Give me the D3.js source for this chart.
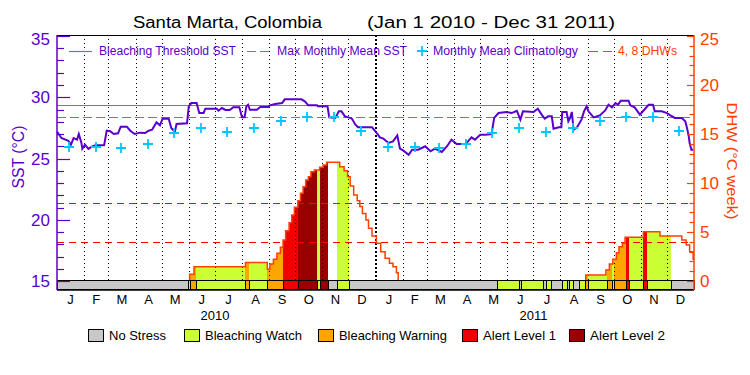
<!DOCTYPE html>
<html>
<head>
<meta charset="utf-8">
<script src="https://cdn.jsdelivr.net/npm/d3@7"></script>
<style>
  body { margin: 0; background: #fff; }
  text { font-family: "Liberation Sans", "DejaVu Sans", sans-serif; }
</style>
</head>
<body>
<svg id="chart" width="750" height="375"></svg>
<script>
// ---- data (days counted from Jan 1 2010) ----
const sstDays = [0,5,13,16,19,23,25,28,29,32,36,40,44,54,57,61,65,70,73,80,84,89,95,101,105,109,112,114,118,121,128,131,135,137,149,151,154,160,163,168,170,183,185,189,193,198,202,209,212,215,217,219,221,229,233,242,244,250,258,261,280,284,288,298,299,310,312,319,321,323,326,330,334,338,342,345,361,364,368,370,374,380,385,390,393,397,403,407,414,422,428,433,441,447,452,458,468,471,475,479,485,491,498,501,506,515,521,527,531,534,546,551,556,559,563,567,569,575,578,579,584,586,588,590,592,596,601,604,607,609,615,622,628,632,636,640,643,646,655,657,662,668,672,678,683,685,693,699,703,708,716,720,722,724,725,727,729];
const sstValues = [27.2,26.67,26.45,26.13,26.67,26.54,27.0,26.27,25.8,26.13,25.78,25.96,26.08,26.08,27.27,27.22,27.0,27.06,27.6,27.6,27.27,27.0,27.11,27.08,27.27,27.35,27.71,27.95,27.71,28.25,28.25,27.49,27.16,27.82,27.87,29.26,29.53,29.53,28.71,28.71,29.07,29.07,28.9,29.12,28.96,28.96,29.18,29.18,28.36,28.36,29.26,29.39,28.98,28.98,29.2,29.2,29.34,29.45,29.53,29.83,29.83,29.67,29.34,29.34,29.26,29.26,28.36,28.31,28.58,28.85,28.85,28.44,28.36,28.25,27.76,27.55,27.55,27.3,26.94,26.73,26.62,26.27,26.4,26.89,25.8,25.64,25.31,25.72,25.72,26.0,25.59,25.8,25.53,26.0,26.54,26.18,26.18,26.4,26.73,26.54,26.94,26.94,27.0,28.31,28.71,28.8,28.71,28.9,28.17,28.85,28.8,29.07,28.52,28.25,28.44,28.44,27.43,27.55,27.55,28.8,28.8,28.04,28.31,28.8,27.35,27.55,28.17,28.85,29.26,28.85,28.36,28.52,28.9,29.39,29.18,29.53,29.39,29.72,29.72,29.34,29.18,28.58,28.9,29.39,29.39,28.85,28.85,28.71,28.52,28.31,28.31,28.04,27.49,26.81,26.27,25.72,25.72];

const climValues = [25.9,25.9,25.88,26.15,27.1,27.5,27.18,27.5,28.1,28.36,28.36,27.24];
const maxMonthlyMean = 28.36;
const bleachingThreshold = 29.36;

const dhwDays = [0,152,157,216,241,244,248,252,256,259,262,266,269,272,276,279,282,285,288,291,295,301,305,309,324,329,333,336,340,344,347,350,354,357,361,366,371,376,381,385,389,391,606,629,633,637,641,644,648,651,672,691,716,721,725,729];
const dhwValues = [0,0.68,1.46,1.88,1.19,1.73,2.21,2.82,3.44,4.18,5.13,5.95,6.73,7.52,8.19,8.95,9.62,10.3,10.64,11.15,11.33,11.6,11.84,12.11,11.66,11.26,10.64,9.69,8.78,8.2,7.6,6.9,6.22,5.37,4.59,3.84,2.99,2.31,1.8,1.46,0.85,0,0.61,1.12,1.73,2.21,2.89,3.5,3.84,4.46,5.03,4.59,4.18,3.67,2.99,2.14];
const dhwLevels = [4, 8];

// alert status: start day and level (0 no stress .. 4 alert level 2)
const statusStart = [0,150,152,159,215,220,241,259,276,298,301,311,321,335,504,529,532,557,560,566,579,584,587,591,598,605,609,630,636,638,652,655,672,676,704];
const statusLevel = [0,1,2,1,2,1,2,3,4,1,4,0,1,0,1,0,1,0,1,0,1,0,1,0,1,2,1,2,1,2,3,1,3,1,0];
const statusNames = ["No Stress", "Bleaching Watch", "Bleaching Warning", "Alert Level 1", "Alert Level 2"];
const statusColors = ["#c8c8c8", "#ccff33", "#ffa500", "#f00000", "#990000"];

const monthLetters = ["J","F","M","A","M","J","J","A","S","O","N","D"];
const years = [2010, 2011];
const sstTicks = [15, 20, 25, 30, 35];
const dhwTicks = [0, 5, 10, 15, 20, 25];
const totalDays = 730;

// ---- setup ----
const purple = "#5a00cc", blue = "#1e90ff", cyan = "#00c8ff", dhwColor = "#ff4000";
const svg = d3.select("#chart");
const plotLeft = 57, plotRight = 694, plotTop = 35, plotBottom = 290, barTop = 281;

const dayToDate = d => new Date(Date.UTC(2010, 0, 1) + d * 864e5);
const x = d3.scaleUtc().domain([dayToDate(0), dayToDate(totalDays)]).range([plotLeft, plotRight]);
const xd = d => x(dayToDate(d));
const ySST = d3.scaleLinear().domain([15, 35]).range([barTop, 36]);
const yDHW = d3.scaleLinear().domain([0, 25]).range([barTop, 36]);
const crisp = v => Math.round(v) + 0.5;

const segments = statusStart.map((s, i) => ({
  start: s,
  end: i < statusStart.length - 1 ? statusStart[i + 1] : totalDays,
  level: statusLevel[i]
}));

const dhwAt = d => {
  let v = 0;
  dhwDays.forEach((dd, i) => { if (dd <= d) v = dhwValues[i]; });
  return v;
};

// ---- DHW fills coloured by alert status ----
const area = d3.area()
  .x(p => xd(p[0]))
  .y0(yDHW(0))
  .y1(p => yDHW(p[1]))
  .curve(d3.curveStepAfter);

segments.filter(s => s.level > 0).forEach(seg => {
  const pts = [[seg.start, dhwAt(seg.start)]];
  dhwDays.forEach((d, i) => { if (d > seg.start && d < seg.end) pts.push([d, dhwValues[i]]); });
  pts.push([seg.end, dhwAt(seg.end)]);
  svg.append("path")
    .attr("d", area(pts))
    .attr("fill", statusColors[seg.level])
    .attr("shape-rendering", "crispEdges");
});

// ---- dotted month lines ----
const monthStarts = d3.utcMonth.range(dayToDate(0), dayToDate(totalDays));
monthStarts.slice(1).forEach(m => {
  const isYear = m.getUTCMonth() === 0;
  const mx = isYear ? Math.round(x(m)) : crisp(x(m));
  svg.append("line")
    .attr("x1", mx).attr("x2", mx)
    .attr("y1", plotTop).attr("y2", barTop)
    .attr("stroke", "#000")
    .attr("stroke-width", isYear ? 2 : 1)
    .attr("stroke-dasharray", isYear ? "2,2" : "1,3")
    .attr("shape-rendering", "crispEdges");
});

// ---- reference lines ----
svg.append("line")
  .attr("x1", plotLeft).attr("x2", plotRight)
  .attr("y1", crisp(ySST(bleachingThreshold))).attr("y2", crisp(ySST(bleachingThreshold)))
  .attr("stroke", blue).attr("stroke-width", 1.2);
svg.append("line")
  .attr("x1", plotLeft).attr("x2", plotRight)
  .attr("y1", crisp(ySST(maxMonthlyMean))).attr("y2", crisp(ySST(maxMonthlyMean)))
  .attr("stroke", blue).attr("stroke-width", 1.2)
  .attr("stroke-dasharray", "9,4");
dhwLevels.forEach(v => {
  svg.append("line")
    .attr("x1", plotLeft).attr("x2", plotRight)
    .attr("y1", crisp(yDHW(v))).attr("y2", crisp(yDHW(v)))
    .attr("stroke", "#ff0000").attr("stroke-width", 1.2)
    .attr("stroke-dasharray", "7,5");
});

// ---- DHW step line ----
const dhwLine = d3.line()
  .x(d => xd(d))
  .y((d, i) => yDHW(dhwValues[i]))
  .curve(d3.curveStepAfter);
svg.append("path")
  .attr("d", dhwLine(dhwDays))
  .attr("fill", "none")
  .attr("stroke", dhwColor)
  .attr("stroke-width", 1.5);

// ---- SST line ----
const sstLine = d3.line()
  .x(d => xd(d))
  .y((d, i) => ySST(sstValues[i]));
svg.append("path")
  .attr("d", sstLine(sstDays))
  .attr("fill", "none")
  .attr("stroke", purple)
  .attr("stroke-width", 2);

// ---- monthly climatology crosses ----
years.forEach(yr => {
  climValues.forEach((v, m) => {
    const cx = Math.round(x(new Date(Date.UTC(yr, m, 15))));
    const cy = Math.round(ySST(v));
    svg.append("path")
      .attr("d", `M${cx - 5},${cy}H${cx + 5}M${cx},${cy - 5}V${cy + 5}`)
      .attr("stroke", cyan)
      .attr("stroke-width", 1.8);
  });
});

// ---- status bar (drawn over the zero part of the DHW line) ----
segments.forEach(seg => {
  const x0 = crisp(xd(seg.start)), x1 = crisp(xd(seg.end));
  svg.append("rect")
    .attr("x", x0).attr("y", barTop - 0.5)
    .attr("width", x1 - x0)
    .attr("height", plotBottom - barTop)
    .attr("fill", statusColors[seg.level])
    .attr("stroke", "#000")
    .attr("stroke-width", 1);
});

// ---- frame and axes ----
svg.append("line").attr("x1", plotLeft).attr("x2", plotRight).attr("y1", plotTop + 0.5).attr("y2", plotTop + 0.5).attr("stroke", "#000");
svg.append("line").attr("x1", plotLeft).attr("x2", plotRight).attr("y1", plotBottom).attr("y2", plotBottom).attr("stroke", "#000").attr("stroke-width", 1.5);
svg.append("line").attr("x1", plotLeft).attr("x2", plotLeft).attr("y1", plotTop).attr("y2", plotBottom).attr("stroke", purple).attr("stroke-width", 1.5);
svg.append("line").attr("x1", plotRight).attr("x2", plotRight).attr("y1", plotTop).attr("y2", plotBottom).attr("stroke", dhwColor).attr("stroke-width", 1.5);

d3.range(15, 36).forEach(v => {
  const major = v % 5 === 0;
  svg.append("line")
    .attr("x1", plotLeft).attr("x2", plotLeft + (major ? 13 : 7))
    .attr("y1", crisp(ySST(v))).attr("y2", crisp(ySST(v)))
    .attr("stroke", purple).attr("stroke-width", 1.2);
});
sstTicks.forEach(v => {
  svg.append("text")
    .attr("x", 50).attr("y", ySST(v) + 6 + (v === 35 ? 3 : 0))
    .attr("text-anchor", "end")
    .attr("font-size", 17)
    .attr("fill", purple)
    .text(v);
});

d3.range(0, 26).forEach(v => {
  const major = v % 5 === 0;
  svg.append("line")
    .attr("x1", plotRight - (major ? 7 : 4.5)).attr("x2", plotRight)
    .attr("y1", crisp(yDHW(v))).attr("y2", crisp(yDHW(v)))
    .attr("stroke", dhwColor).attr("stroke-width", 1.2);
});
dhwTicks.forEach(v => {
  svg.append("text")
    .attr("x", 700).attr("y", yDHW(v) + 6 + (v === 25 ? 3 : 0))
    .attr("font-size", 17)
    .attr("fill", dhwColor)
    .text(v);
});

svg.append("text")
  .attr("transform", "translate(24,157) rotate(-90)")
  .attr("text-anchor", "middle")
  .attr("font-size", 16)
  .attr("fill", purple)
  .attr("textLength", 63)
  .attr("lengthAdjust", "spacingAndGlyphs")
  .text("SST (°C)");
svg.append("text")
  .attr("transform", "translate(727,161) rotate(90)")
  .attr("text-anchor", "middle")
  .attr("font-size", 15)
  .attr("fill", dhwColor)
  .attr("textLength", 117)
  .attr("lengthAdjust", "spacingAndGlyphs")
  .text("DHW (°C week)");

// month letters and years
monthStarts.forEach(m => {
  const next = d3.utcMonth.offset(m, 1);
  svg.append("text")
    .attr("x", (x(m) + x(next)) / 2).attr("y", 304)
    .attr("text-anchor", "middle")
    .attr("font-size", 13)
    .text(monthLetters[m.getUTCMonth()]);
});
years.forEach(yr => {
  svg.append("text")
    .attr("x", x(new Date(Date.UTC(yr, 6, 1)))).attr("y", 319.5)
    .attr("text-anchor", "middle")
    .attr("font-size", 13)
    .text(yr);
});

// ---- title ----
svg.append("text").attr("x", 133).attr("y", 28).attr("font-size", 16)
  .attr("textLength", 189).attr("lengthAdjust", "spacingAndGlyphs")
  .text("Santa Marta, Colombia");
svg.append("text").attr("x", 367).attr("y", 28).attr("font-size", 16)
  .attr("textLength", 248).attr("lengthAdjust", "spacingAndGlyphs")
  .text("(Jan 1 2010 - Dec 31 2011)");

// ---- top legend ----
const topLegend = [
  { text: "Bleaching Threshold SST", x: 99, w: 137, color: purple },
  { text: "Max Monthly Mean SST", x: 277, w: 130, color: purple },
  { text: "Monthly Mean Climatology", x: 433, w: 145, color: purple },
  { text: "4, 8 DHWs", x: 618, w: 59, color: dhwColor }
];
topLegend.forEach(d => {
  svg.append("text")
    .attr("x", d.x).attr("y", 55)
    .attr("font-size", 12.5)
    .attr("fill", d.color)
    .attr("textLength", d.w).attr("lengthAdjust", "spacingAndGlyphs")
    .text(d.text);
});
svg.append("line").attr("x1", 69).attr("x2", 92).attr("y1", 51.5).attr("y2", 51.5).attr("stroke", blue).attr("stroke-width", 1.2);
svg.append("line").attr("x1", 247).attr("x2", 269).attr("y1", 51.5).attr("y2", 51.5).attr("stroke", blue).attr("stroke-width", 1.2).attr("stroke-dasharray", "9,4");
svg.append("path").attr("d", "M417,51H427M422,46V56").attr("stroke", cyan).attr("stroke-width", 1.8);
svg.append("line").attr("x1", 588).attr("x2", 612).attr("y1", 51.5).attr("y2", 51.5).attr("stroke", dhwColor).attr("stroke-width", 1.2).attr("stroke-dasharray", "10,5");

// ---- status legend ----
const boxX = [88, 184, 318, 462, 569];
const labelW = [57, 97, 108, 73, 75];
statusNames.forEach((name, i) => {
  svg.append("rect")
    .attr("x", boxX[i] + 0.5).attr("y", 329.5)
    .attr("width", 15).attr("height", 12)
    .attr("fill", statusColors[i])
    .attr("stroke", "#000").attr("stroke-width", 1);
  svg.append("text")
    .attr("x", boxX[i] + 21).attr("y", 340)
    .attr("font-size", 13)
    .attr("textLength", labelW[i]).attr("lengthAdjust", "spacingAndGlyphs")
    .text(name);
});
</script>
</body>
</html>
